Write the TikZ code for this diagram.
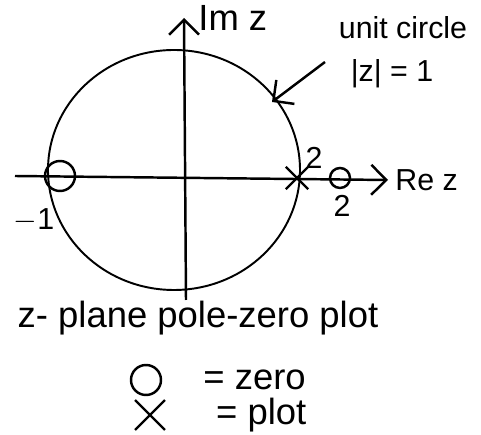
\documentclass[tikz,border=0pt]{standalone}
\usepackage{fontspec}
\setmainfont{Liberation Sans}
\usetikzlibrary{shapes.misc,arrows.meta,positioning}

\begin{document}
\begin{tikzpicture}[x=0.02cm, y=-0.02cm, every node/.style={font=\Large}]
\useasboundingbox (0,0) rectangle (481,435);
% unit circle
\draw[line width=1.1pt] (174,170) ellipse (126 and 120);
% axes
\coordinate (reL) at (15,176);
\coordinate (reR) at (388,180);
\coordinate (imB) at (186,300);
\coordinate (imT) at (184,18);
\draw[line width=1.4pt, -{Straight Barb[length=3mm]}] (reL) -- (reR);
\draw[line width=1.4pt, -{Straight Barb[length=3mm]}] (imB) -- (imT);
\node[right, inner sep=4pt, font=\LARGE] (rez) at (reR) {Re z};
\node[right, inner sep=8pt, font=\huge] (imz) at (imT) {Im z};
% poles and zeros
\node[circle, draw, line width=1.4pt, minimum size=0.6cm, inner sep=0pt] (zm1) at (60,176) {};
\node[font=\LARGE] (lm1) at (34,220) {$-$1};
\node[cross out, draw, line width=1.4pt, minimum size=0.4cm, inner sep=0pt] (pole) at (297,178) {};
\node[font=\LARGE] (lpole) at (314,158) {2};
\node[circle, draw, line width=1.4pt, minimum size=0.4cm, inner sep=0pt] (z2) at (340,178) {};
\node[font=\LARGE] (lz2) at (342,206) {2};
% unit circle label
\node[font=\LARGE] (uc) at (403,28) {unit circle};
\node[font=\LARGE] (mag) at (392,74) {|z| = 1};
\coordinate (arrS) at (325,62);
\coordinate (arrE) at (272,102);
\draw[line width=1.4pt, -{Straight Barb[length=3mm]}] (arrS) -- (arrE);
% caption and legend
\node[font=\huge] (title) at (198,318) {z- plane pole-zero plot};
\node[circle, draw, line width=1.4pt, minimum size=0.6cm, inner sep=0pt] (lgz) at (146,380) {};
\node[right=0.7cm of lgz, font=\huge] (lgzt) {= zero};
\node[cross out, draw, line width=1.4pt, minimum size=0.55cm, inner sep=0pt] (lgp) at (150,415) {};
\node[right=0.9cm of lgp, font=\huge] (lgpt) {= plot};
\end{tikzpicture}
\end{document}
